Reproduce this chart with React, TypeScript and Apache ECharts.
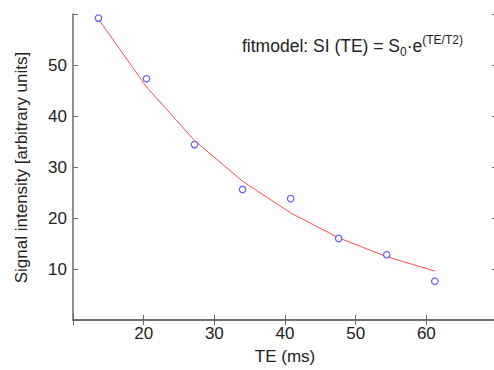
import React, { useEffect, useRef } from "react";
import * as echarts from "echarts";

const teValues = [13.6, 20.4, 27.2, 34.0, 40.8, 47.6, 54.4, 61.2];
const measured = [59.2, 47.3, 34.4, 25.6, 23.8, 16.0, 12.8, 7.6];
const fitted = [59.0, 45.7, 35.2, 27.2, 21.0, 16.1, 12.4, 9.6];
const xTickLabels = ["20", "30", "40", "50", "60"];
const yTickLabels = ["10", "20", "30", "40", "50"];

const FONT = "Liberation Sans, Arial, Helvetica, sans-serif";
const AXIS_COLOR = "#6a6a6a";
const TEXT_COLOR = "#222";

export default function App() {
  const ref = useRef<HTMLDivElement>(null);
  useEffect(() => {
    if (!ref.current) return;
    const chart = echarts.init(ref.current, undefined, { renderer: "svg" });
    const axisCommon = {
      axisLine: { show: true, lineStyle: { color: AXIS_COLOR, width: 1.5 } },
      axisTick: { show: true, inside: true, length: 5, lineStyle: { color: AXIS_COLOR, width: 1 } },
      splitLine: { show: false },
    };
    chart.setOption({
      animation: false,
      backgroundColor: "#fff",
      textStyle: { fontFamily: FONT },
      grid: { left: 73, top: 14, right: 3, bottom: 45 },
      xAxis: [
        {
          type: "value",
          position: "bottom",
          min: 10,
          max: 70,
          interval: 10,
          ...axisCommon,
          axisLabel: {
            color: TEXT_COLOR,
            fontSize: 17,
            fontFamily: FONT,
            margin: 5,
            formatter: (v: number) => (xTickLabels.includes(String(v)) ? String(v) : ""),
          },
          name: "TE (ms)",
          nameLocation: "middle",
          nameGap: 28,
          nameTextStyle: { color: TEXT_COLOR, fontSize: 17, fontFamily: FONT },
        },
        {
          type: "value",
          position: "top",
          min: 10,
          max: 70,
          interval: 10,
          ...axisCommon,
          axisLabel: { show: false },
        },
      ],
      yAxis: [
        {
          type: "value",
          position: "left",
          min: 0,
          max: 60,
          interval: 10,
          ...axisCommon,
          axisLabel: {
            color: TEXT_COLOR,
            fontSize: 17,
            fontFamily: FONT,
            margin: 6,
            formatter: (v: number) => (yTickLabels.includes(String(v)) ? String(v) : ""),
          },
        },
        {
          type: "value",
          position: "right",
          min: 0,
          max: 60,
          interval: 10,
          ...axisCommon,
          axisLabel: { show: false },
        },
      ],
      graphic: [
        {
          type: "text",
          x: 21.5,
          y: 167.5,
          rotation: Math.PI / 2,
          style: {
            text: "Signal intensity [arbitrary units]",
            fontSize: 17,
            fontFamily: FONT,
            fill: TEXT_COLOR,
            align: "center",
            verticalAlign: "middle",
          },
        },
        {
          type: "text",
          left: 242,
          top: 33.5,
          style: {
            text: "{a|fitmodel: SI (TE) = S}{sub|0}{a|·e}{sup|(TE/T2)}",
            rich: {
              a: { fontSize: 17.5, fontFamily: FONT, fill: TEXT_COLOR, lineHeight: 24, verticalAlign: "middle" },
              sub: { fontSize: 12, fontFamily: FONT, fill: TEXT_COLOR, lineHeight: 14, verticalAlign: "bottom" },
              sup: { fontSize: 12, fontFamily: FONT, fill: TEXT_COLOR, lineHeight: 14, verticalAlign: "top" },
            },
          },
        },
      ],
      series: [
        {
          type: "line",
          data: teValues.map((t, i) => [t, fitted[i]]),
          symbol: "none",
          lineStyle: { color: "#ff4d4d", width: 1 },
          z: 2,
        },
        {
          type: "scatter",
          data: teValues.map((t, i) => [t, measured[i]]),
          symbol: "circle",
          symbolSize: 6.5,
          itemStyle: { color: "#fff", borderColor: "#3838ff", borderWidth: 1.2 },
          z: 3,
        },
      ],
    });
    return () => chart.dispose();
  }, []);
  return (
    <div style={{ position: "fixed", left: 0, top: 0, width: 494, height: 370, overflow: "hidden" }}>
      <div ref={ref} style={{ width: 500, height: 370 }} />
    </div>
  );
}
